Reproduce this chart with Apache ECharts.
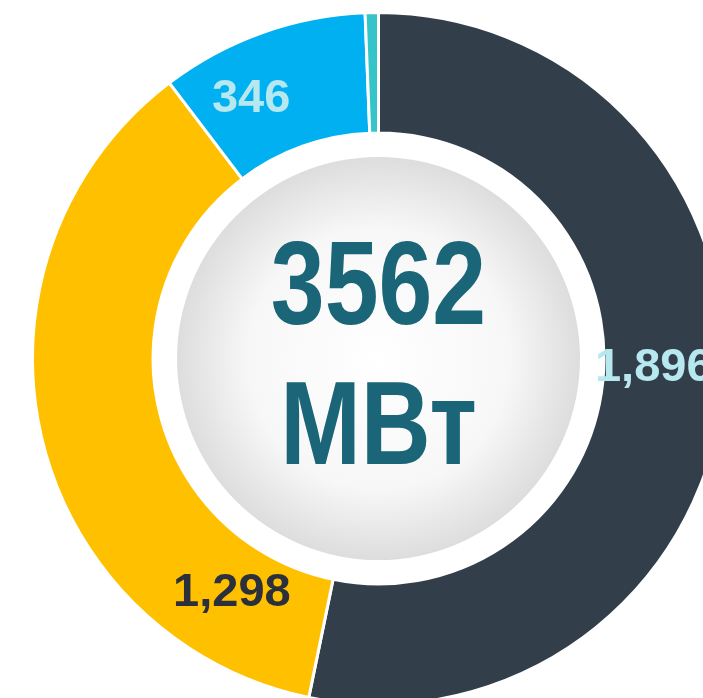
<!DOCTYPE html>
<html>
<head>
<meta charset="utf-8">
<script src="https://cdn.jsdelivr.net/npm/echarts@6/dist/echarts.min.js"></script>
<style>
  html, body { margin: 0; padding: 0; background: #fff; }
  #chart { width: 703px; height: 698px; }
</style>
</head>
<body>
<div id="chart"></div>
<script>
// slices, clockwise from 12 o'clock
const categories = ['A', 'B', 'C', 'D'];
const values = [1896, 1298, 346, 22];
const unit = 'МВт';

const sliceColors = ['#333e4b', '#ffc000', '#00b0f0', '#35c5c9'];
const labelColors = ['#b7e8f0', '#2b303c', '#b7e8f0', 'transparent'];
// nudges so labels sit where the original had them
const labelNudge = [[-12, -20], [135, 171], [-30, 12], [0, 0]];

const FONT = '"Liberation Sans", Arial, sans-serif';
const total = values.reduce((a, b) => a + b, 0);
const CX = 378.5, CY = 358.5;

const chart = echarts.init(document.getElementById('chart'));

// the original uses a narrow bold face; squeeze regular bold horizontally
const centerText = (text, y) => ({
  type: 'text',
  x: CX,
  y: y,
  scaleX: 0.82,
  silent: true,
  z: 10,
  style: {
    text: text,
    x: 0,
    y: 0,
    align: 'center',
    verticalAlign: 'middle',
    font: `bold 118px ${FONT}`,
    fill: '#1a6577',
  },
});

chart.setOption({
  animation: false,
  graphic: [
    centerText(String(total), 291),
    centerText(unit, 431),
  ],
  series: [
    {
      // grey disc in the middle
      type: 'pie',
      silent: true,
      center: [CX, CY],
      radius: [0, 201.5],
      data: [{ name: 'total', value: total }],
      itemStyle: {
        color: {
          type: 'radial', x: 0.5, y: 0.5, r: 0.5,
          colorStops: [
            { offset: 0, color: '#ffffff' },
            { offset: 0.65, color: '#f7f7f7' },
            { offset: 1, color: '#dddddd' },
          ],
        },
      },
      label: { show: false },
      labelLine: { show: false },
    },
    {
      type: 'pie',
      center: [CX, CY],
      radius: [225.5, 346],
      startAngle: 90,
      clockwise: true,
      avoidLabelOverlap: false,
      data: categories.map((name, i) => ({
        name,
        value: values[i],
        itemStyle: { color: sliceColors[i] },
        label: { color: labelColors[i], show: i < 3 },
      })),
      itemStyle: { borderColor: '#fff', borderWidth: 3 },
      label: {
        position: 'inside',
        formatter: (p) => p.value.toLocaleString('en-US'),
        fontFamily: FONT,
        fontWeight: 'bold',
        fontSize: 47,
      },
      labelLayout: (p) => ({ dx: labelNudge[p.dataIndex][0], dy: labelNudge[p.dataIndex][1] }),
      labelLine: { show: false },
    },
  ],
});
</script>
</body>
</html>
